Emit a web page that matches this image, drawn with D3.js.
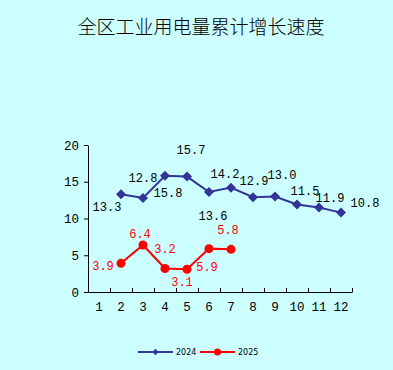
<!DOCTYPE html>
<meta charset="utf-8">
<style>
body { margin: 0; background: #ccffff; }
svg { display: block; background: #ccffff; }
.axis text { font: 12.5px "Liberation Mono", monospace; fill: #000; }
.axis path, .axis line { stroke: #000; }
.lbl { font: 12px "Liberation Mono", monospace; }
</style>
<svg width="393" height="370"></svg>
<script src="https://d3js.org/d3.v7.min.js"></script>
<script>

var months = ["1", "2", "3", "4", "5", "6", "7", "8", "9", "10", "11", "12"];
var yTicks = [0, 5, 10, 15, 20];

// 2024, plotted values (Feb-Dec) and the label text printed beside each point
var months2024 = ["2", "3", "4", "5", "6", "7", "8", "9", "10", "11", "12"];
var values2024 = [13.3, 12.8, 15.8, 15.7, 13.6, 14.2, 12.9, 13.0, 11.9, 11.5, 10.8];
var labels2024 = ["13.3", "12.8", "15.8", "15.7", "13.6", "14.2", "12.9", "13.0", "11.5", "11.9", "10.8"];

// 2025 (Feb-Jul)
var months2025 = ["2", "3", "4", "5", "6", "7"];
var values2025 = [3.9, 6.4, 3.2, 3.1, 5.9, 5.8];
var labels2025 = ["3.9", "6.4", "3.2", "3.1", "5.9", "5.8"];

// label offsets from their point, in px
var off2024 = [[-14, 13], [0, -20], [3, 17], [4, -27], [4, 24], [-6, -14], [1, -16], [7, -22], [8, -14], [11, -10], [24, -10]];
var off2025 = [[-18, 2], [-3, -11], [0, -20], [-5, 13], [-2, 18], [-3, -20]];

var svg = d3.select("svg");

var x = d3.scaleBand().domain(months).range([88, 352]),
    xb = d3.scaleLinear().domain([0, 12]).range([88, 352]),
    y = d3.scaleLinear().domain([0, 20]).range([292, 145]);

function cx(m) { return x(m) + x.bandwidth() / 2; }

// title
svg.append("text")
    .attr("x", 201)
    .attr("y", 27)
    .attr("dy", "0.35em")
    .attr("text-anchor", "middle")
    .style("font", "300 19px 'Noto Sans CJK SC'")
    .text("全区工业用电量累计增长速度");

// y axis
svg.append("g")
    .attr("class", "axis")
    .attr("transform", "translate(88,0)")
    .call(d3.axisLeft(y).tickValues(yTicks).tickSize(4).tickSizeOuter(0).tickPadding(5));

// x axis line with inward ticks on category boundaries
svg.append("g")
    .attr("class", "axis")
    .attr("transform", "translate(0,292)")
    .call(d3.axisBottom(xb).tickValues(d3.range(13)).tickSize(-4).tickSizeOuter(0).tickFormat(""));

// x labels
var xl = svg.append("g")
    .attr("class", "axis")
    .attr("transform", "translate(0,292)")
    .call(d3.axisBottom(x).tickSize(0).tickPadding(10));
xl.select(".domain").remove();

var line = d3.line()
    .x(function(d) { return cx(d.m); })
    .y(function(d) { return y(d.v); });

function series(ms, vs, ls, offs) {
  return ms.map(function(m, i) { return {m: m, v: vs[i], t: ls[i], o: offs[i]}; });
}

var s2024 = series(months2024, values2024, labels2024, off2024),
    s2025 = series(months2025, values2025, labels2025, off2025);

var blue = "#333399", red = "#ff0000";

var diamond = d3.symbol().type(d3.symbolSquare).size(50);

// 2024
svg.append("path")
    .datum(s2024)
    .attr("d", line)
    .attr("fill", "none")
    .attr("stroke", blue)
    .attr("stroke-width", 2);

svg.selectAll(".m24")
    .data(s2024)
  .enter().append("path")
    .attr("class", "m24")
    .attr("d", diamond)
    .attr("transform", function(d) { return "translate(" + cx(d.m) + "," + y(d.v) + ") rotate(45)"; })
    .attr("fill", blue);

svg.selectAll(".l24")
    .data(s2024)
  .enter().append("text")
    .attr("class", "lbl")
    .attr("x", function(d) { return cx(d.m) + d.o[0]; })
    .attr("y", function(d) { return y(d.v) + d.o[1]; })
    .attr("dy", "0.35em")
    .attr("text-anchor", "middle")
    .attr("fill", "#000")
    .text(function(d) { return d.t; });

// 2025
svg.append("path")
    .datum(s2025)
    .attr("d", line)
    .attr("fill", "none")
    .attr("stroke", red)
    .attr("stroke-width", 2);

svg.selectAll(".m25")
    .data(s2025)
  .enter().append("circle")
    .attr("cx", function(d) { return cx(d.m); })
    .attr("cy", function(d) { return y(d.v); })
    .attr("r", 4.5)
    .attr("fill", red);

svg.selectAll(".l25")
    .data(s2025)
  .enter().append("text")
    .attr("class", "lbl")
    .attr("x", function(d) { return cx(d.m) + d.o[0]; })
    .attr("y", function(d) { return y(d.v) + d.o[1]; })
    .attr("dy", "0.35em")
    .attr("text-anchor", "middle")
    .attr("fill", red)
    .text(function(d) { return d.t; });

// legend
var legend = [
  {name: "2024", color: blue, x: 138, shape: "d"},
  {name: "2025", color: red, x: 200, shape: "c"}
];

var lg = svg.selectAll(".lg")
    .data(legend)
  .enter().append("g")
    .attr("transform", function(d) { return "translate(" + d.x + ",352)"; });

lg.append("line")
    .attr("x1", 0).attr("x2", 35)
    .attr("stroke", function(d) { return d.color; })
    .attr("stroke-width", 2);

lg.each(function(d) {
  var g = d3.select(this);
  if (d.shape === "d") {
    g.append("path").attr("d", d3.symbol().type(d3.symbolSquare).size(20)).attr("transform", "translate(17.5,0) rotate(45)").attr("fill", d.color);
  } else {
    g.append("circle").attr("cx", 17.5).attr("r", 3.5).attr("fill", d.color);
  }
});

lg.append("text")
    .attr("x", 38)
    .attr("dy", "0.35em")
    .style("font", "8px 'DejaVu Sans'")
    .text(function(d) { return d.name; });

</script>
